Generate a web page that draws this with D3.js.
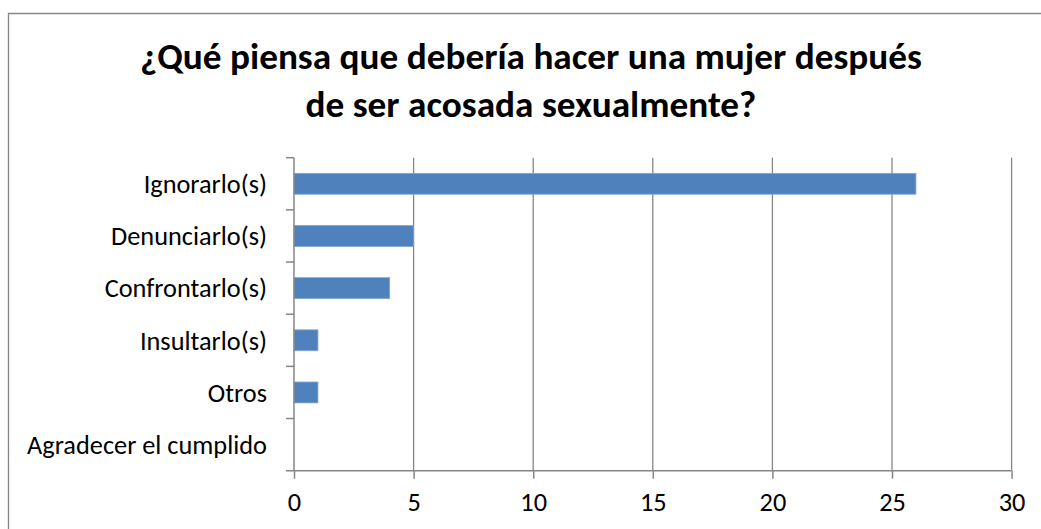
<!DOCTYPE html>
<html>
<head>
<meta charset="utf-8">
<script src="https://cdn.jsdelivr.net/npm/d3@7"></script>
<style>
  body { margin: 0; background: #fff; }
  svg { display: block; }
  text { font-family: Carlito, Calibri, Lato, "Open Sans", sans-serif; fill: #000; }
</style>
</head>
<body>
<svg id="chart" width="1041" height="529"></svg>
<script>
// data
var categories = ["Ignorarlo(s)", "Denunciarlo(s)", "Confrontarlo(s)", "Insultarlo(s)", "Otros", "Agradecer el cumplido"];
var counts = [26, 5, 4, 1, 1, 0];
var xTicks = [0, 5, 10, 15, 20, 25, 30];
var titleLines = ["¿Qué piensa que debería hacer una mujer después", "de ser acosada sexualmente?"];

var svg = d3.select("#chart"),
    width = +svg.attr("width"),
    height = +svg.attr("height");

var grey = "#868686",
    barFill = "#4f81bd";

var margin = {left: 294, right: 30, top: 157.7, bottom: 58.3};

svg.append("rect")
    .attr("width", width).attr("height", height)
    .attr("fill", "#fff");

// chart frame (only top and left visible)
svg.append("path")
    .attr("d", "M8.5," + (height + 5) + "V13.5H" + (width + 5))
    .attr("fill", "none")
    .attr("stroke", grey)
    .attr("stroke-width", 1.3);

// fit text to the widths seen in the picture
function fitSize(str, bold, target) {
    var t = svg.append("text")
        .style("font-size", "100px")
        .style("font-weight", bold ? "bold" : "normal")
        .text(str);
    var w = t.node().getComputedTextLength();
    t.remove();
    return 100 * target / w;
}

var titleSize = fitSize(titleLines[0], true, 782);
var labelSize = fitSize(categories[5], false, 240);

var title = svg.append("text")
    .attr("text-anchor", "middle")
    .style("font-weight", "bold")
    .style("font-size", titleSize + "px");

title.selectAll("tspan")
    .data(titleLines)
    .enter().append("tspan")
    .attr("x", 531)
    .attr("y", function(d, i) { return 69 + i * 48; })
    .text(function(d) { return d; });

var x = d3.scaleLinear()
    .domain([0, 30])
    .range([margin.left, 1011.6]);

var y = d3.scaleBand()
    .domain(categories)
    .range([margin.top, height - margin.bottom])
    .paddingInner(0.6)
    .paddingOuter(0.3);

var yEdge = d3.scaleLinear()
    .domain([0, categories.length])
    .range([margin.top, height - margin.bottom]);

// vertical gridlines
svg.append("g")
    .selectAll("line")
    .data(xTicks.slice(1))
    .enter().append("line")
    .attr("x1", function(d) { return x(d); })
    .attr("x2", function(d) { return x(d); })
    .attr("y1", margin.top)
    .attr("y2", height - margin.bottom)
    .attr("stroke", grey)
    .attr("stroke-width", 1.3);

// bars
svg.append("g")
    .selectAll("rect")
    .data(categories)
    .enter().append("rect")
    .attr("x", x(0))
    .attr("y", function(d) { return y(d); })
    .attr("width", function(d, i) { return x(counts[i]) - x(0); })
    .attr("height", y.bandwidth())
    .attr("fill", barFill)
    .attr("stroke", "#7ea3d3")
    .attr("stroke-width", 0.8)
    .attr("display", function(d, i) { return counts[i] > 0 ? null : "none"; });

// x axis
var xAxis = d3.axisBottom(x)
    .tickValues(xTicks)
    .tickSize(8)
    .tickPadding(14);

var gx = svg.append("g")
    .attr("transform", "translate(0," + (height - margin.bottom) + ")")
    .call(xAxis);

gx.select(".domain")
    .attr("d", "M" + (x(0) - 8) + ",0H" + x(30))
    .attr("stroke", grey).attr("stroke-width", 1.5);
gx.selectAll(".tick line").attr("stroke", grey).attr("stroke-width", 1.5);
gx.selectAll(".tick text")
    .attr("fill", "#000")
    .style("font-size", labelSize + "px")
    .style("font-family", null);

// y axis: ticks sit between categories
var gy = svg.append("g");

gy.append("line")
    .attr("x1", x(0)).attr("x2", x(0))
    .attr("y1", margin.top).attr("y2", height - margin.bottom)
    .attr("stroke", grey).attr("stroke-width", 1.5);

gy.selectAll(".ytick")
    .data(d3.range(categories.length))
    .enter().append("line")
    .attr("class", "ytick")
    .attr("x1", x(0) - 8).attr("x2", x(0))
    .attr("y1", function(d) { return yEdge(d); })
    .attr("y2", function(d) { return yEdge(d); })
    .attr("stroke", grey).attr("stroke-width", 1.5);

gy.selectAll(".ylabel")
    .data(categories)
    .enter().append("text")
    .attr("class", "ylabel")
    .attr("x", 267)
    .attr("y", function(d) { return y(d) + y.bandwidth() / 2; })
    .attr("dy", "0.35em")
    .attr("text-anchor", "end")
    .style("font-size", labelSize + "px")
    .text(function(d) { return d; });
</script>
</body>
</html>
